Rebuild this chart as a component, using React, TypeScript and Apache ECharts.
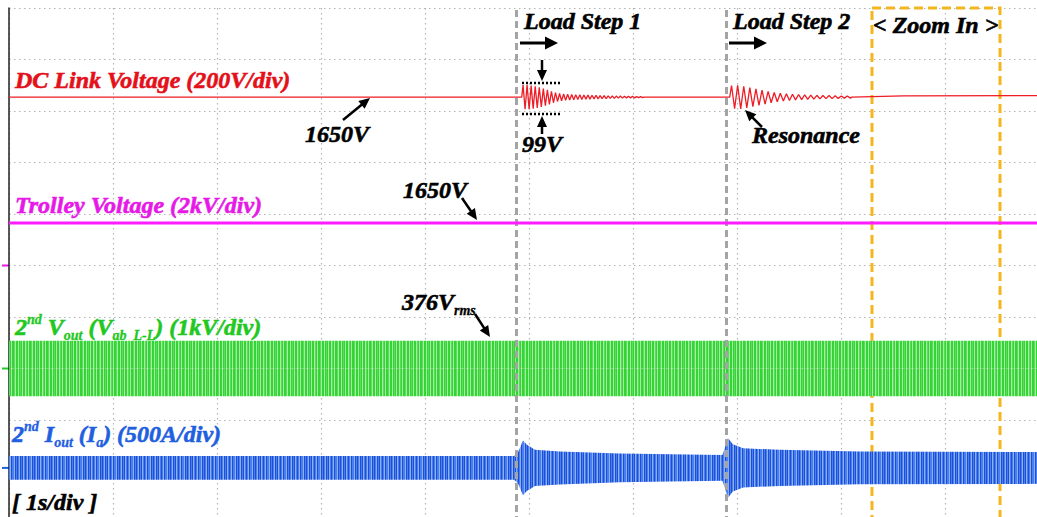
import React, { useEffect, useRef } from 'react';
import * as echarts from 'echarts';

// The chart is drawn on a canvas slightly larger than the window so that the
// scope screen (10 x 10 divisions) continues past the right and bottom edges.
const W = 1049;
const H = 523;
const FONT = '"Liberation Serif", "Times New Roman", Times, serif';

// Time base: 1 s/div, 10 divisions on screen
const loadStepTimes = [4.885, 6.9];
const zoomWindow = [8.298, 9.529];

// DC link voltage, 200 V/div, channel zero at 0.02 div
const dcScale = 200;
const dcZero = 0.02;
const dcBaseT = [0, 4.93, 6.93, 8.6, 10];
const dcBaseV = [1650, 1650, 1650, 1655, 1656];
const step1Start = 4.933;
const step1HalfPeriod = 0.0195;
const step1Amp = [47, 47, 45, 42, 38, 33, 28, 22, 17, 14, 12, 11, 10, 9, 9, 8, 8, 7, 7, 6, 6, 5, 5, 4, 4, 3, 3, 3, 2, 2];
const step2Start = 6.933;
const step2HalfPeriod = 0.0293;
const step2Amp = [45, 46, 42, 37, 32, 27, 22, 18, 15, 13, 11, 10, 9, 8, 7, 6, 6, 5, 4, 4];

// Trolley voltage, 2 kV/div, channel zero at 5.0 div
const trolleyScale = 2000;
const trolleyZero = 5.0;
const trolleyT = [0, 10];
const trolleyV = [1650, 1650];

// 2nd Vout (line-to-line), 1 kV/div, zero at 3.0 div — envelope peak (V)
const voutScale = 1000;
const voutZero = 3.0;
const voutT = [0, 4.88, 6.9, 10];
const voutPeak = [538, 538, 538, 538];

// 2nd Iout (Ia), 500 A/div, zero at 1.07 div — envelope peak (A)
const ioutScale = 500;
const ioutZero = 1.07;
const ioutT = [0, 4.856, 4.894, 4.942, 4.98, 5.058, 5.298, 5.875, 6.86, 6.885, 6.913, 6.96, 7.06, 7.413, 8.183, 10];
const ioutPeak = [115, 115, 150, 265, 225, 175, 160, 140, 125, 200, 290, 230, 190, 175, 158, 155];

function oscillation(start: number, half: number, amps: number[], base: number) {
  const pts: number[][] = [];
  amps.forEach((a, k) => {
    pts.push([start + (2 * k + 0.5) * half, base + a]);
    pts.push([start + (2 * k + 1.5) * half, base - a]);
  });
  pts.push([start + 2 * amps.length * half, base]);
  return pts;
}

function stripePattern(cols: string[], h = 4) {
  const c = document.createElement('canvas');
  c.width = cols.length;
  c.height = h;
  const ctx = c.getContext('2d')!;
  cols.forEach((col, i) => {
    ctx.fillStyle = col;
    ctx.fillRect(i, 0, 1, h);
  });
  return { image: c, repeat: 'repeat', imageWidth: cols.length, imageHeight: h } as any;
}

function arrow(x1: number, y1: number, x2: number, y2: number, w = 2.5, head = 11, hw = 5) {
  const ang = Math.atan2(y2 - y1, x2 - x1);
  const bx = x2 - head * Math.cos(ang);
  const by = y2 - head * Math.sin(ang);
  const px = -Math.sin(ang) * hw;
  const py = Math.cos(ang) * hw;
  return [
    { type: 'line', silent: true, shape: { x1, y1, x2: bx + Math.cos(ang), y2: by + Math.sin(ang) }, style: { stroke: '#000', lineWidth: w } },
    { type: 'polygon', silent: true, shape: { points: [[x2, y2], [bx + px, by + py], [bx - px, by - py]] }, style: { fill: '#000' } },
  ];
}

function label(x: number, y: number, text: string, color: string, rich?: any) {
  return {
    type: 'text',
    x,
    y,
    silent: true,
    style: {
      text,
      fill: color,
      stroke: color,
      lineWidth: 0.6,
      fontFamily: FONT,
      fontSize: 24,
      fontWeight: 'bold',
      fontStyle: 'italic',
      align: 'left',
      verticalAlign: 'middle',
      rich,
    },
  };
}

function richStyles(color: string) {
  const base = { fill: color, stroke: color, lineWidth: 0.6, fontFamily: FONT, fontWeight: 'bold', fontStyle: 'italic' };
  return {
    m: { ...base, fontSize: 24, lineHeight: 30 },
    sup: { ...base, fontSize: 14, lineHeight: 14, verticalAlign: 'top', lineWidth: 0.3 },
    sub: { ...base, fontSize: 14, lineHeight: 14, verticalAlign: 'bottom', lineWidth: 0.3 },
  };
}

function bandSeries(name: string, t: number[], peak: number[], zero: number, scale: number, pat: any) {
  const common = {
    type: 'line', symbol: 'none', z: 2, silent: true,
    lineStyle: { opacity: 0 },
    areaStyle: { color: pat, opacity: 1, origin: zero },
  };
  return [
    { ...common, name: name + ' upper', data: t.map((x, i) => [x, zero + peak[i] / scale]) },
    { ...common, name: name + ' lower', data: t.map((x, i) => [x, zero - peak[i] / scale]) },
  ];
}

export default function App() {
  const ref = useRef<HTMLDivElement>(null);

  useEffect(() => {
    const chart = echarts.init(ref.current!, undefined, { renderer: 'svg' });

    const redData: number[][] = [];
    redData.push([dcBaseT[0], dcBaseV[0] / dcScale + dcZero]);
    redData.push([dcBaseT[1], dcBaseV[1] / dcScale + dcZero]);
    oscillation(step1Start, step1HalfPeriod, step1Amp, dcBaseV[1]).forEach((p) => redData.push([p[0], p[1] / dcScale + dcZero]));
    redData.push([dcBaseT[2], dcBaseV[2] / dcScale + dcZero]);
    oscillation(step2Start, step2HalfPeriod, step2Amp, dcBaseV[2]).forEach((p) => redData.push([p[0], p[1] / dcScale + dcZero]));
    redData.push([dcBaseT[3], dcBaseV[3] / dcScale + dcZero]);
    redData.push([dcBaseT[4], dcBaseV[4] / dcScale + dcZero]);

    const trolleyData = trolleyT.map((t, i) => [t, trolleyV[i] / trolleyScale + trolleyZero]);

    const G = '#36d336', L = '#a4eea4', M = '#5cdc5c';
    const greenPat = stripePattern([G, L, G, M, G, L, G, G, L, M, G, L, G, G, M, L, G]);
    const B = '#4a80ee', D = '#1f4ed6', LB = '#8ab0f7';
    const bluePat = stripePattern([D, B, LB, D, B, D, LB, B, D, B, LB, D, B, B, LB, D, B]);

    const dotted = { color: '#b4b4b4', width: 1.2, type: [1.5, 3.5] as any };

    const option: any = {
      animation: false,
      backgroundColor: '#ffffff',
      grid: { left: 9, top: 8, right: 0, bottom: 0, containLabel: false },
      xAxis: {
        type: 'value',
        position: 'top',
        min: 0,
        max: 10,
        interval: 1,
        axisLine: { show: true, lineStyle: { color: '#c4c4c4', width: 2 } },
        axisTick: { show: false },
        axisLabel: { show: false },
        splitLine: { show: true, lineStyle: dotted },
      },
      yAxis: {
        type: 'value',
        min: 0,
        max: 10,
        interval: 1,
        axisLine: { show: true, onZero: false, lineStyle: { color: '#222', width: 1.5 } },
        axisTick: { show: false },
        axisLabel: { show: false },
        splitLine: { show: true, lineStyle: dotted },
      },
      series: [
        ...bandSeries('2nd Vout', voutT, voutPeak, voutZero, voutScale, greenPat),
        ...bandSeries('2nd Iout', ioutT, ioutPeak, ioutZero, ioutScale, bluePat),
        {
          name: 'DC link', type: 'line', data: redData, symbol: 'none',
          lineStyle: { color: '#ee1c25', width: 1.3 }, z: 3,
        },
        {
          name: 'Trolley', type: 'line', data: trolleyData, symbol: 'none',
          lineStyle: { color: '#ff1cff', width: 3 }, z: 5,
          markLine: {
            silent: true,
            symbol: ['none', 'none'],
            label: { show: false },
            lineStyle: { color: '#a4a4a4', width: 3, type: [7, 4] },
            data: loadStepTimes.map((t) => ({ xAxis: t })),
          },
          markArea: {
            silent: true,
            itemStyle: { color: 'rgba(0,0,0,0)', borderColor: '#f3b61f', borderWidth: 3, borderType: [9, 5] },
            data: [[{ xAxis: zoomWindow[0], yAxis: 10 }, { xAxis: zoomWindow[1], yAxis: 0 }]],
          },
        },
      ],
    };
    chart.setOption(option);

    const py = (v: number) => chart.convertToPixel({ gridIndex: 0 }, [0, v])[1];
    const marker = (v: number, color: string) => ({
      type: 'line', silent: true,
      shape: { x1: 2, y1: py(v), x2: 9, y2: py(v) },
      style: { stroke: color, lineWidth: 2 },
    });

    const graphics: any[] = [
      marker(trolleyZero, '#e619e6'),
      marker(voutZero, '#26c926'),
      marker(ioutZero, '#1f5fe0'),
      label(15, 80, 'DC Link Voltage (200V/div)', '#e4101a'),
      label(305, 134, '1650V', '#000'),
      label(524, 21, 'Load Step 1', '#000'),
      label(733, 21, 'Load Step 2', '#000'),
      label(873, 25, '< Zoom In >', '#000'),
      label(522, 144, '99V', '#000'),
      label(752, 135, 'Resonance', '#000'),
      label(15, 205, 'Trolley Voltage (2kV/div)', '#e619e6'),
      label(403, 190, '1650V', '#000'),
      label(402, 302, '{m|376V}{sub|rms}', '#000', richStyles('#000')),
      label(15, 327, '{m|2}{sup|nd}{m| V}{sub|out}{m| (V}{sub|ab_L-L}{m|) (1kV/div)}', '#22c822', richStyles('#22c822')),
      label(12, 434, '{m|2}{sup|nd}{m| I}{sub|out}{m| (I}{sub|a}{m|) (500A/div)}', '#1f5fe0', richStyles('#1f5fe0')),
      label(12, 502, '[ 1s/div ]', '#000'),
      { type: 'line', silent: true, shape: { x1: 522, y1: 83, x2: 561, y2: 83 }, style: { stroke: '#000', lineWidth: 2.5, lineDash: [2, 2] } },
      { type: 'line', silent: true, shape: { x1: 522, y1: 114, x2: 561, y2: 114 }, style: { stroke: '#000', lineWidth: 2.5, lineDash: [2, 2] } },
      ...arrow(343, 120, 370, 98),
      ...arrow(520, 43, 558, 43, 3, 13, 6.5),
      ...arrow(729, 43, 767, 43, 3, 13, 6.5),
      ...arrow(542, 60, 542, 81),
      ...arrow(542, 134, 542, 116),
      ...arrow(762, 127, 745, 110),
      ...arrow(462, 198, 477, 220),
      ...arrow(475, 314, 490, 337),
    ];
    chart.setOption({ graphic: { elements: graphics } });

    return () => chart.dispose();
  }, []);

  return (
    <div
      ref={ref}
      style={{ position: 'fixed', left: 0, top: 0, width: W, height: H, background: '#fff' }}
    />
  );
}
